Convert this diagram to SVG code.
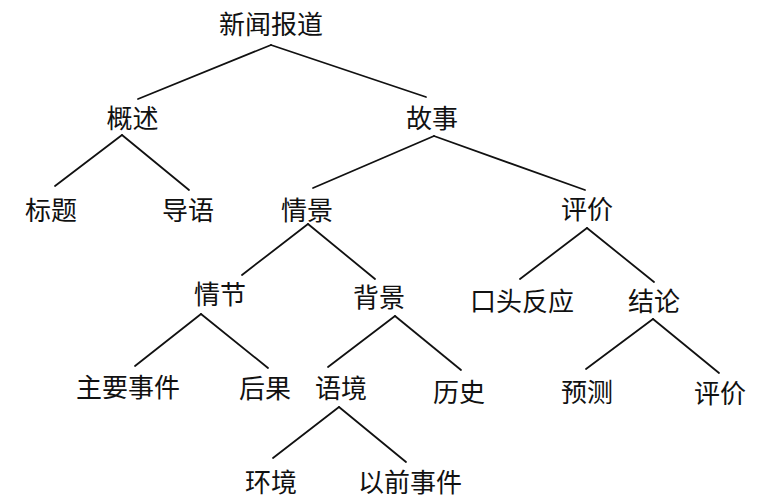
<svg xmlns="http://www.w3.org/2000/svg" width="768" height="500" viewBox="0 0 768 500">
<style>
.t{font-family:"Noto Sans CJK SC","Noto Sans CJK JP",sans-serif;font-size:26px;fill:#111;text-anchor:middle;font-weight:400}
.e line{stroke:#111;stroke-width:1.8;stroke-linecap:round}
</style>
<rect width="768" height="500" fill="#fff"/>
<g class="e" id="connectors">
<line x1="271" y1="45" x2="138" y2="99"/>
<line x1="271" y1="45" x2="426" y2="97"/>
<line x1="122" y1="135" x2="55" y2="186"/>
<line x1="122" y1="135" x2="189" y2="190"/>
<line x1="434" y1="136" x2="313" y2="188"/>
<line x1="434" y1="136" x2="585" y2="190"/>
<line x1="308" y1="224" x2="242" y2="275"/>
<line x1="308" y1="224" x2="375" y2="279"/>
<line x1="587" y1="228" x2="520" y2="279"/>
<line x1="587" y1="228" x2="654" y2="282"/>
<line x1="201" y1="314" x2="135" y2="366"/>
<line x1="201" y1="314" x2="268" y2="368"/>
<line x1="395" y1="316" x2="328" y2="367"/>
<line x1="395" y1="316" x2="461" y2="370"/>
<line x1="653" y1="319" x2="586" y2="369"/>
<line x1="653" y1="319" x2="719" y2="373"/>
<line x1="339" y1="407" x2="273" y2="458"/>
<line x1="339" y1="407" x2="406" y2="462"/>
</g>
<g id="n-root"><text class="t" x="271" y="33.5">新闻报道</text></g>
<g id="n-gaishu"><text class="t" x="132.5" y="127.5">概述</text></g>
<g id="n-gushi"><text class="t" x="432" y="127.5">故事</text></g>
<g id="n-biaoti"><text class="t" x="51" y="219.5">标题</text></g>
<g id="n-daoyu"><text class="t" x="188" y="219.5">导语</text></g>
<g id="n-qingjing"><text class="t" x="307" y="219.5">情景</text></g>
<g id="n-pingjia"><text class="t" x="587" y="219">评价</text></g>
<g id="n-qingjie"><text class="t" x="220" y="304">情节</text></g>
<g id="n-beijing"><text class="t" x="379" y="307">背景</text></g>
<g id="n-koutou"><text class="t" x="522" y="310.5">口头反应</text></g>
<g id="n-jielun"><text class="t" x="654" y="311">结论</text></g>
<g id="n-zhuyao"><text class="t" x="128" y="397">主要事件</text></g>
<g id="n-houguo"><text class="t" x="265" y="397.5">后果</text></g>
<g id="n-yujing"><text class="t" x="341" y="397.5">语境</text></g>
<g id="n-lishi"><text class="t" x="459" y="402">历史</text></g>
<g id="n-yuce"><text class="t" x="587" y="401.5">预测</text></g>
<g id="n-pingjia2"><text class="t" x="720" y="402.5">评价</text></g>
<g id="n-huanjing"><text class="t" x="271" y="492">环境</text></g>
<g id="n-yiqian"><text class="t" x="410" y="492">以前事件</text></g>
</svg>
